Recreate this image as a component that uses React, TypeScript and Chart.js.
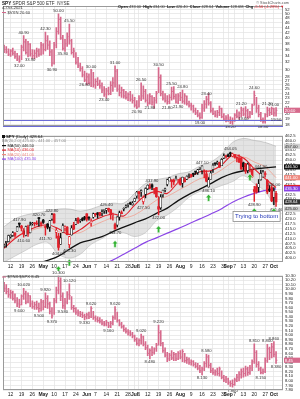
import React, { useEffect, useRef } from "react";
import { Chart, registerables } from "chart.js";

Chart.register(...registerables);

const FONT = "'Liberation Sans', Arial, Helvetica, sans-serif";
const GRID = "#e3e3e3";
const OHLC_COLOR = "#d66a8c";
const RED = "#e0202a";
const PURPLE = "#8a45e6";
const X_MIN = -0.5;
const X_MAX = 128.2;

// ---------- header text ----------
const symbol = "SPY";
const symbolName = "SPDR S&P 500 ETF";
const exchange = "NYSE";
const lastDate = "4-Oct-2021";
const lastVolume = "128.6M";
const topName = "$VXN";
const botName = "$TNX:$SPX";
const annText = "Trying to bottom";
const annIdx = 105;
const annVal = 424;

// ---------- x axis (trading-day index) ----------
const tickIdx = [3, 8, 13, 18, 23, 28, 33, 38, 42, 47, 52, 57, 60, 62, 66, 71, 76, 81, 86, 91, 96, 101, 103, 106, 110, 115, 120, 124];
const tickLabels = ["12", "19", "26", "May", "10", "17", "24", "Jun", "7", "14", "21", "28", "Jul", "6", "12", "19", "26", "Aug", "9", "16", "23", "30", "Sep", "7", "13", "20", "27", "Oct"];
const monthNames = ["May", "Jun", "Jul", "Aug", "Sep", "Oct"];

// ---------- y ticks ----------
const topTicks = [18, 19, 20, 21, 22, 23, 24, 25, 26, 27, 28, 30, 32, 34, 36, 38, 40, 42, 44, 46, 48, 50, 52];
const midTicks = [400, 402.5, 405, 407.5, 410, 412.5, 415, 417.5, 420, 422.5, 425, 427.5, 430, 432.5, 435, 437.5, 440, 442.5, 445, 447.5, 450, 452.5, 455, 457.5, 460, 462.5];
const botTicks = [7.8, 7.9, 8.0, 8.1, 8.2, 8.3, 8.4, 8.5, 8.6, 8.7, 8.8, 8.9, 9.0, 9.1, 9.2, 9.3, 9.4, 9.5, 9.6, 9.7, 9.8, 9.9, 10.0, 10.1, 10.2, 10.3];

// ---------- SPY daily OHLC ----------
const spyOpen = [
  405.9, 407.9, 408.4, 410.9, 411.5, 412.8, 413.7, 417.3, 416.3, 413.9,
  411.5, 415.9, 412.9, 417.4, 417.9, 417.8, 420.3, 417.6, 419.4, 416.1,
  417.4, 415.8, 419.9, 422.5, 413.1, 411.2, 407.1, 413.2, 415.4, 415.8,
  406.9, 411.8, 416.9, 417.3, 420.3, 418.9, 420.2, 420.9, 422.6, 420.4,
  417.9, 420.8, 422.6, 423.1, 423.2, 423.0, 424.2, 424.4, 425.4, 424.6,
  421.7, 417.1, 416.8, 420.9, 423.2, 424.9, 425.9, 427.2, 427.9, 427.2,
  428.9, 431.7, 433.8, 433.7, 428.8, 432.5, 435.4, 436.2, 437.4, 435.5,
  436.0, 426.2, 425.7, 432.3, 434.7, 437.5, 439.3, 439.9, 439.7, 439.8,
  437.9, 440.3, 438.2, 439.8, 440.2, 442.1, 442.5, 443.0, 443.8, 443.6,
  445.6, 444.5, 444.2, 443.0, 436.3, 440.2, 445.2, 448.0, 448.2, 448.6,
  447.1, 451.0, 452.1, 452.6, 453.3, 452.0, 452.7, 450.9, 450.7, 451.0,
  448.6, 448.1, 444.6, 447.3, 444.9, 434.9, 436.5, 436.1, 439.9, 441.4,
  442.8, 439.7, 435.2, 436.0, 431.0, 433.0,
];
const spyHigh = [
  407.2, 408.6, 411.7, 411.9, 413.5, 413.0, 416.2, 417.9, 416.7, 415.1,
  416.3, 416.8, 418.3, 418.2, 418.1, 419.0, 420.7, 418.5, 419.8, 416.6,
  417.6, 419.2, 422.8, 422.7, 415.3, 412.6, 412.6, 417.5, 416.4, 416.1,
  411.1, 416.6, 418.2, 420.3, 420.7, 419.6, 420.7, 421.3, 422.7, 421.2,
  420.0, 423.0, 422.8, 423.2, 423.3, 424.6, 424.4, 425.4, 425.5, 424.9,
  423.0, 417.8, 421.1, 424.0, 424.1, 425.6, 427.1, 427.7, 428.6, 428.8,
  430.6, 434.1, 434.0, 434.8, 431.7, 435.8, 437.4, 437.8, 437.9, 435.5,
  436.1, 431.4, 432.4, 434.7, 435.7, 440.3, 441.0, 439.9, 440.3, 441.8,
  440.1, 440.9, 441.3, 441.1, 441.9, 442.9, 442.8, 443.4, 443.9, 445.3,
  445.9, 447.1, 445.0, 444.6, 441.1, 444.4, 448.2, 448.5, 449.5, 448.9,
  450.7, 453.1, 452.5, 453.1, 454.05, 453.6, 452.8, 451.7, 452.6, 451.4,
  448.9, 448.3, 448.4, 447.8, 445.4, 436.6, 437.9, 440.0, 444.9, 444.7,
  444.1, 440.0, 437.0, 436.8, 436.0, 434.0,
];
const spyLow = [
  405.4, 405.6, 408.3, 410.2, 411.1, 410.6, 413.7, 415.7, 413.8, 410.6,
  411.3, 411.1, 412.8, 416.8, 416.3, 416.9, 416.3, 416.3, 417.7, 411.7,
  414.9, 413.6, 419.2, 417.8, 410.1, 404.0, 407.0, 413.2, 413.7, 411.8,
  405.3, 411.7, 414.5, 417.1, 417.6, 418.2, 419.0, 419.3, 418.8, 419.3,
  416.3, 420.3, 421.2, 420.3, 421.4, 421.6, 422.8, 422.8, 423.5, 419.9,
  419.3, 414.7, 415.9, 419.3, 422.5, 424.0, 425.6, 425.9, 427.2, 427.0,
  428.8, 430.5, 430.0, 431.5, 427.5, 430.7, 434.9, 435.3, 434.9, 432.7,
  430.9, 422.0, 424.8, 431.0, 433.7, 436.8, 439.3, 436.0, 437.3, 439.8,
  437.8, 437.2, 436.1, 438.7, 440.0, 441.1, 441.3, 441.5, 442.6, 442.7,
  445.1, 442.9, 440.9, 438.9, 436.1, 440.2, 443.7, 447.2, 447.8, 446.2,
  447.1, 450.7, 450.9, 451.7, 451.9, 451.6, 451.0, 449.1, 448.7, 445.3,
  444.9, 443.2, 443.4, 443.9, 441.0, 428.9, 433.1, 433.8, 439.7, 441.2,
  441.2, 432.9, 433.9, 428.8, 427.2, 426.4,
];
const spyClose = [
  406.6, 408.5, 411.5, 411.6, 412.9, 411.5, 415.9, 417.3, 415.2, 412.2,
  416.1, 412.3, 416.7, 417.6, 417.5, 417.4, 420.1, 417.3, 418.2, 415.6,
  415.8, 419.1, 422.1, 417.9, 414.2, 405.4, 410.3, 416.6, 415.5, 411.9,
  410.9, 415.3, 414.9, 419.2, 418.2, 419.1, 419.3, 420.0, 419.7, 420.3,
  418.8, 422.6, 422.2, 422.3, 421.7, 423.6, 424.3, 425.3, 424.5, 422.1,
  422.0, 414.9, 420.9, 423.1, 422.6, 425.1, 426.6, 427.5, 427.7, 428.1,
  430.4, 433.7, 432.9, 434.5, 430.9, 435.5, 437.1, 435.6, 436.2, 434.8,
  431.3, 425.0, 431.1, 434.6, 435.5, 439.9, 441.0, 439.0, 438.8, 440.7,
  438.5, 437.6, 441.2, 439.0, 441.8, 442.5, 442.1, 442.7, 443.8, 445.1,
  445.9, 447.0, 444.0, 439.2, 439.9, 443.4, 447.3, 448.0, 448.9, 446.3,
  450.3, 452.2, 451.6, 451.8, 453.2, 453.1, 451.5, 450.9, 449.0, 445.4,
  446.6, 444.2, 447.9, 447.2, 441.4, 434.0, 433.6, 437.9, 443.2, 443.9,
  442.6, 433.7, 434.5, 429.1, 434.2, 428.64,
];

// ---------- indicators (read weekly) ----------
const maIdx = [0, 5, 10, 15, 20, 25, 30, 35, 40, 45, 50, 55, 60, 65, 70, 75, 80, 85, 90, 95, 100, 105, 110, 115, 120, 125];
const ma10 = [405, 410, 413.5, 416, 417, 415, 412, 414.5, 418.5, 421, 422.5, 421.5, 427, 432, 434, 433, 438.5, 441, 444, 444.5, 447.5, 452.5, 451, 445.5, 440.5, 436];
const ma20 = [407, 410.5, 413, 415, 416, 413.5, 412.5, 413, 416, 418.5, 420.5, 420.5, 422, 425.5, 429.5, 431.5, 434.5, 437.5, 440.5, 442, 445, 449, 451.5, 449, 446.5, 441];
const ma50 = [392, 394, 395.5, 397, 398.8, 401, 404.5, 407.8, 409.3, 410.9, 413.5, 415.8, 418, 420, 422.8, 425.5, 429.3, 432.5, 435.2, 438, 441, 443.2, 444.5, 445.4, 446, 446.5];
const ma100 = [374, 376.5, 379, 381.5, 384, 386.5, 389, 391.5, 394, 396.5, 399, 402, 405, 408, 410.3, 412.7, 415, 417.5, 420, 422.5, 425.2, 428.5, 431, 433, 434.5, 435.3];
const bbUpper = [416, 420, 422, 423, 424, 425, 425, 424, 425, 427, 428, 428, 433, 438, 440, 441, 443, 444, 447, 449, 453, 459, 461, 460, 459, 457];
const bbLower = [398, 401, 404, 407, 408, 402, 400, 402, 407, 410, 413, 413, 411, 413, 419, 422, 426, 431, 434, 435, 437, 439, 442, 438, 434, 425];

const arrowIdx = [25, 30, 51, 71, 94, 113, 115, 124];
const arrowVal = [396, 399.5, 409, 416.5, 432.5, 443, 425.5, 425.5];

const spyHiLabels = [7, 16, 22, 47, 68, 91, 104, 118, 124];
const spyLoLabels = [9, 19, 25, 30, 51, 64, 71, 94, 115, 125];

// ---------- top panel (H/L/C) ----------
const topHigh = [
  37.5, 37.0, 36.2, 36.0, 36.5, 35.5, 34.8, 34.0, 37.5, 40.9,
  39.5, 38.8, 38.0, 36.0, 35.8, 36.5, 36.2, 38.5, 38.0, 42.3,
  40.9, 39.0, 36.0, 38.5, 44.0, 50.0, 48.5, 41.0, 39.5, 42.0,
  45.5, 39.5, 36.5, 35.0, 33.5, 31.8, 30.8, 29.5, 29.0, 28.8,
  30.0, 29.2, 27.5, 27.8, 27.2, 26.5, 25.6, 25.2, 25.5, 26.8,
  27.8, 31.0, 30.0, 26.0, 25.5, 25.0, 24.5, 24.2, 24.5, 23.8,
  23.2, 22.5, 23.6, 26.5, 25.8, 25.0, 23.8, 24.0, 23.6, 23.2,
  24.5, 30.5, 28.5, 24.6, 24.0, 23.6, 23.8, 25.5, 25.6, 23.9,
  24.0, 24.3, 24.8, 24.0, 23.5, 22.4, 22.0, 21.6, 21.0, 20.6,
  20.1, 21.8, 22.5, 23.4, 24.0, 22.3, 21.0, 20.5, 20.6, 21.4,
  21.0, 20.0, 19.6, 19.8, 19.4, 19.2, 20.0, 20.7, 20.3, 21.2,
  21.0, 21.3, 20.8, 20.4, 21.8, 24.6, 23.2, 21.6, 20.2, 19.2,
  20.0, 21.2, 21.0, 21.2, 21.0, 21.1,
];
const topLow = [
  35.0, 34.8, 34.0, 33.8, 34.2, 33.2, 32.5, 32.0, 32.8, 35.5,
  34.5, 33.6, 33.9, 33.2, 33.0, 33.5, 33.8, 34.2, 34.5, 35.5,
  36.0, 34.0, 30.9, 31.5, 36.5, 41.5, 39.5, 35.8, 35.4, 37.0,
  37.8, 34.5, 33.5, 31.5, 30.5, 29.5, 28.0, 26.8, 26.0, 26.2,
  25.6, 25.5, 25.2, 25.8, 25.2, 24.2, 23.4, 23.0, 23.7, 23.8,
  24.5, 25.5, 24.5, 23.5, 23.2, 23.0, 22.8, 22.5, 22.4, 22.0,
  21.2, 20.9, 21.2, 22.5, 22.8, 22.2, 21.5, 21.8, 21.6, 21.0,
  22.0, 24.2, 23.5, 22.6, 22.2, 21.8, 21.9, 22.6, 22.8, 22.0,
  21.9, 22.5, 22.0, 21.8, 21.6, 21.2, 20.6, 20.2, 19.8, 19.4,
  19.0, 19.1, 20.4, 21.0, 21.6, 20.2, 19.8, 19.4, 19.3, 19.6,
  19.2, 18.8, 18.5, 18.6, 18.2, 18.1, 18.6, 19.2, 19.0, 19.4,
  19.6, 19.3, 19.1, 19.2, 19.8, 21.6, 20.2, 19.4, 18.6, 18.3,
  18.3, 19.4, 19.6, 19.8, 19.5, 19.5,
];
const topClose = [
  36.0, 35.2, 34.5, 35.5, 34.8, 33.8, 33.0, 32.4, 36.8, 38.6,
  35.0, 37.8, 34.6, 34.0, 34.8, 35.5, 34.5, 37.5, 36.0, 39.0,
  37.5, 35.2, 31.8, 37.5, 42.5, 47.5, 40.0, 36.4, 38.0, 40.5,
  39.0, 35.0, 35.5, 32.0, 31.0, 30.2, 28.5, 27.2, 28.0, 26.5,
  29.6, 26.0, 26.8, 26.2, 25.8, 24.8, 23.9, 24.6, 24.0, 25.9,
  26.5, 29.5, 25.0, 24.2, 24.8, 23.5, 23.2, 23.8, 22.8, 22.5,
  21.6, 21.2, 23.0, 23.5, 24.5, 22.6, 22.0, 23.4, 22.2, 22.6,
  24.0, 27.8, 24.0, 23.0, 22.5, 22.3, 23.2, 24.5, 23.4, 22.2,
  23.5, 23.2, 22.4, 23.5, 21.9, 21.5, 21.4, 20.5, 20.1, 19.7,
  19.3, 21.0, 21.8, 22.8, 22.0, 20.5, 20.0, 19.7, 20.2, 20.9,
  19.4, 19.0, 19.2, 18.9, 18.5, 18.7, 19.7, 19.5, 20.0, 20.6,
  19.9, 20.5, 19.4, 20.1, 21.5, 23.6, 21.0, 19.8, 18.9, 18.6,
  19.8, 20.6, 20.2, 20.9, 20.1, 20.6,
];
const hLineVals = [18.8, 17.85];
const topHiLabels = [9, 19, 25, 30, 40, 51, 63, 71, 77, 82, 93, 109, 115, 121, 124];
const topLoLabels = [7, 12, 22, 27, 37, 46, 61, 67, 75, 80, 90, 104, 110, 119, 125];

// ---------- bottom panel (H/L/C) ----------
const botHigh = [
  10.15, 10.10, 10.02, 9.98, 9.96, 9.90, 9.82, 9.78, 9.88, 10.02,
  9.96, 9.92, 9.86, 9.75, 9.72, 9.74, 9.70, 9.78, 9.76, 9.92,
  9.86, 9.72, 9.60, 9.80, 10.05, 10.30, 10.25, 9.92, 9.80, 9.95,
  10.12, 9.84, 9.65, 9.60, 9.55, 9.52, 9.50, 9.46, 9.48, 9.50,
  9.62, 9.52, 9.42, 9.40, 9.38, 9.34, 9.30, 9.32, 9.28, 9.30,
  9.42, 9.62, 9.50, 9.34, 9.28, 9.22, 9.16, 9.12, 9.10, 9.06,
  9.00, 8.94, 8.92, 9.02, 8.98, 8.86, 8.78, 8.70, 8.75, 8.72,
  8.82, 9.22, 9.10, 8.84, 8.72, 8.62, 8.60, 8.66, 8.62, 8.60,
  8.64, 8.66, 8.68, 8.60, 8.52, 8.50, 8.46, 8.44, 8.40, 8.38,
  8.34, 8.30, 8.42, 8.58, 8.56, 8.38, 8.28, 8.24, 8.28, 8.30,
  8.22, 8.12, 8.10, 8.06, 8.00, 8.02, 8.06, 8.14, 8.20, 8.26,
  8.28, 8.32, 8.30, 8.34, 8.46, 8.81, 8.66, 8.42, 8.30, 8.26,
  8.50, 8.80, 8.74, 8.82, 8.86, 8.64,
];
const botLow = [
  9.95, 9.90, 9.82, 9.80, 9.76, 9.70, 9.62, 9.60, 9.66, 9.78,
  9.68, 9.70, 9.62, 9.58, 9.56, 9.56, 9.50, 9.52, 9.55, 9.60,
  9.58, 9.46, 9.37, 9.45, 9.70, 9.90, 9.75, 9.58, 9.56, 9.68,
  9.78, 9.56, 9.50, 9.45, 9.42, 9.40, 9.38, 9.33, 9.35, 9.36,
  9.38, 9.34, 9.30, 9.28, 9.26, 9.22, 9.20, 9.20, 9.16, 9.16,
  9.22, 9.34, 9.28, 9.20, 9.15, 9.08, 9.04, 9.00, 8.98, 8.94,
  8.86, 8.78, 8.76, 8.80, 8.76, 8.68, 8.55, 8.48, 8.55, 8.58,
  8.64, 8.78, 8.76, 8.62, 8.52, 8.42, 8.44, 8.46, 8.44, 8.44,
  8.46, 8.48, 8.42, 8.40, 8.38, 8.36, 8.34, 8.32, 8.28, 8.24,
  8.18, 8.13, 8.22, 8.30, 8.28, 8.18, 8.14, 8.12, 8.12, 8.10,
  8.04, 7.98, 7.96, 7.92, 7.88, 7.86, 7.90, 7.98, 8.00, 8.06,
  8.08, 8.10, 8.12, 8.14, 8.22, 8.38, 8.30, 8.22, 8.15, 8.15,
  8.18, 8.40, 8.46, 8.50, 8.52, 8.38,
];
const botClose = [
  10.02, 9.95, 9.88, 9.92, 9.80, 9.75, 9.68, 9.66, 9.85, 9.90,
  9.72, 9.86, 9.68, 9.62, 9.66, 9.60, 9.58, 9.72, 9.62, 9.80,
  9.68, 9.52, 9.42, 9.75, 9.98, 10.18, 9.85, 9.64, 9.72, 9.88,
  9.86, 9.60, 9.58, 9.50, 9.48, 9.45, 9.42, 9.40, 9.44, 9.40,
  9.58, 9.38, 9.35, 9.32, 9.30, 9.26, 9.24, 9.28, 9.20, 9.26,
  9.38, 9.55, 9.32, 9.24, 9.18, 9.12, 9.08, 9.05, 9.02, 8.98,
  8.90, 8.82, 8.88, 8.96, 8.80, 8.72, 8.60, 8.66, 8.62, 8.70,
  8.78, 9.05, 8.82, 8.66, 8.56, 8.48, 8.56, 8.50, 8.58, 8.48,
  8.60, 8.52, 8.64, 8.44, 8.46, 8.40, 8.42, 8.36, 8.32, 8.28,
  8.22, 8.26, 8.38, 8.52, 8.34, 8.22, 8.18, 8.20, 8.16, 8.26,
  8.08, 8.02, 8.04, 7.96, 7.94, 7.92, 8.02, 8.08, 8.14, 8.20,
  8.16, 8.26, 8.18, 8.28, 8.42, 8.62, 8.36, 8.26, 8.18, 8.20,
  8.44, 8.70, 8.62, 8.74, 8.58, 8.45,
];
const botHiLabels = [9, 19, 25, 30, 40, 51, 63, 71, 93, 115, 121, 124];
const botLoLabels = [7, 16, 22, 27, 37, 48, 67, 91, 105, 118, 125];

// ---------- helpers ----------
const last = (a: number[]) => a[a.length - 1];

function setFont(ctx: any, size: number, weight = "normal") {
  ctx.font = `${weight} ${size}px ${FONT}`;
}
function text(ctx: any, s: string, x: number, y: number, size: number, color: string, align = "left", weight = "normal") {
  setFont(ctx, size, weight);
  ctx.fillStyle = color;
  ctx.textAlign = align;
  ctx.textBaseline = "middle";
  ctx.fillText(s, x, y);
}
function rich(ctx: any, parts: any[], x: number, y: number, size: number, align = "left") {
  let total = 0;
  parts.forEach((p) => {
    setFont(ctx, size, p[1]);
    total += ctx.measureText(p[0]).width;
  });
  let cx = align === "right" ? x - total : x;
  parts.forEach((p) => {
    setFont(ctx, size, p[1]);
    ctx.fillStyle = p[2];
    ctx.textAlign = "left";
    ctx.textBaseline = "middle";
    ctx.fillText(p[0], cx, y);
    cx += ctx.measureText(p[0]).width;
  });
}
function frame(chart: any) {
  const a = chart.chartArea;
  const ctx = chart.ctx;
  ctx.save();
  ctx.strokeStyle = "#9a9a9a";
  ctx.lineWidth = 1;
  ctx.strokeRect(Math.round(a.left) + 0.5, Math.round(a.top) + 0.5, Math.round(a.right - a.left) - 1, Math.round(a.bottom - a.top) - 1);
  ctx.restore();
}
function valueBox(chart: any, value: number, label: string, bg: string, fg: string) {
  const ctx = chart.ctx;
  const y = chart.scales.y.getPixelForValue(value);
  const x = chart.chartArea.right + 1;
  ctx.fillStyle = bg;
  ctx.fillRect(x, y - 2.6, 16, 5.2);
  text(ctx, label, x + 0.8, y + 0.2, 4.2, fg);
}
function hiLoLabels(chart: any, hiIdx: number[], loIdx: number[], hi: number[], lo: number[], digits: number) {
  const ctx = chart.ctx;
  const xs = chart.scales.x;
  const ys = chart.scales.y;
  hiIdx.forEach((i) => text(ctx, hi[i].toFixed(digits), xs.getPixelForValue(i), ys.getPixelForValue(hi[i]) - 3, 4.2, "#333", "center"));
  loIdx.forEach((i) => text(ctx, lo[i].toFixed(digits), xs.getPixelForValue(i), ys.getPixelForValue(lo[i]) + 3.4, 4.2, "#333", "center"));
}
function greenArrow(ctx: any, x: number, y: number) {
  ctx.save();
  ctx.fillStyle = "#35b335";
  ctx.strokeStyle = "#ffffff";
  ctx.lineWidth = 0.5;
  ctx.beginPath();
  ctx.moveTo(x, y);
  ctx.lineTo(x + 3, y + 3.4);
  ctx.lineTo(x + 1.2, y + 3.4);
  ctx.lineTo(x + 1.2, y + 7);
  ctx.lineTo(x - 1.2, y + 7);
  ctx.lineTo(x - 1.2, y + 3.4);
  ctx.lineTo(x - 3, y + 3.4);
  ctx.closePath();
  ctx.fill();
  ctx.stroke();
  ctx.restore();
}

function xScale(showLabels: boolean) {
  return {
    type: "linear",
    min: X_MIN,
    max: X_MAX,
    offset: false,
    afterBuildTicks: (a: any) => {
      a.ticks = tickIdx.map((v) => ({ value: v }));
    },
    afterFit: (a: any) => {
      a.height = showLabels ? 9 : 0;
    },
    grid: { color: GRID, lineWidth: 0.7, drawTicks: false, offset: false },
    border: { display: false },
    ticks: {
      display: showLabels,
      autoSkip: false,
      maxRotation: 0,
      minRotation: 0,
      padding: 2,
      color: "#222",
      font: (c: any) => ({ family: FONT, size: 5, weight: monthNames.includes(tickLabels[c.index]) ? "bold" : "normal" }),
      callback: (_v: any, i: number) => tickLabels[i],
    },
  };
}
function yScale(type: string, min: number, max: number, ticksArr: number[], fmt: (v: number) => string) {
  return {
    type,
    position: "right",
    min,
    max,
    afterBuildTicks: (a: any) => {
      a.ticks = ticksArr.map((v) => ({ value: v }));
    },
    afterFit: (a: any) => {
      a.width = 17;
    },
    grid: { color: GRID, lineWidth: 0.7, drawTicks: false },
    border: { display: false },
    ticks: { autoSkip: false, padding: 2, color: "#222", font: { family: FONT, size: 4.2 }, callback: (v: any) => fmt(Number(v)) },
  };
}
function baseOptions(padTop: number, x: any, y: any) {
  return {
    responsive: false,
    animation: false,
    events: [],
    layout: { padding: { left: 3, right: 0, top: padTop, bottom: 0 } },
    plugins: { legend: { display: false }, tooltip: { enabled: false } },
    scales: { x, y },
  };
}
function hlcDatasets(high: number[], low: number[], close: number[]) {
  return [
    {
      type: "bar",
      data: low.map((l, i) => ({ x: i, y: [l, high[i]] })),
      barThickness: 1,
      grouped: false,
      minBarLength: 1,
      backgroundColor: OHLC_COLOR,
      borderWidth: 0,
      order: 2,
    },
    {
      type: "line",
      data: close.map((c, i) => ({ x: i, y: c })),
      showLine: false,
      pointStyle: "dash",
      pointRadius: 1.4,
      pointHoverRadius: 0,
      pointBorderWidth: 0.9,
      pointBorderColor: OHLC_COLOR,
      pointBackgroundColor: OHLC_COLOR,
      order: 1,
    },
  ];
}
const pts = (arr: number[]) => maIdx.map((x, i) => ({ x, y: arr[i] }));
function maLine(arr: number[], color: string, width: number, order: number) {
  return { type: "line", data: pts(arr), borderColor: color, borderWidth: width, pointRadius: 0, tension: 0.35, fill: false, order };
}

// ---------- charts ----------
function makeTop(canvas: HTMLCanvasElement) {
  const plugin = {
    id: "topOverlay",
    afterDatasetsDraw(chart: any) {
      const ctx = chart.ctx;
      const a = chart.chartArea;
      const ys = chart.scales.y;
      ctx.save();
      hLineVals.forEach((v) => {
        const y = Math.round(ys.getPixelForValue(v)) + 0.5;
        ctx.strokeStyle = "#6b6bd6";
        ctx.lineWidth = 1;
        ctx.beginPath();
        ctx.moveTo(a.left, y);
        ctx.lineTo(a.right, y);
        ctx.stroke();
      });
      hiLoLabels(chart, topHiLabels, topLoLabels, topHigh, topLow, 2);
      frame(chart);
      valueBox(chart, last(topClose), last(topClose).toFixed(2), OHLC_COLOR, "#fff");
      // header
      rich(ctx, [[symbol, "bold", "#111"], [" " + symbolName + "  " + exchange, "normal", "#333"]], 2, 3.5, 4.6);
      text(ctx, lastDate, 2, 8, 4.2, "#333");
      ctx.fillStyle = OHLC_COLOR;
      ctx.fillRect(2, 12, 4, 1);
      text(ctx, topName + " " + last(topClose).toFixed(2), 7.5, 12.5, 4.2, "#333");
      const c = last(spyClose);
      const pc = spyClose[spyClose.length - 2];
      const chg = c - pc;
      rich(
        ctx,
        [
          ["Open ", "bold", "#111"], [last(spyOpen).toFixed(2) + "  ", "normal", "#333"],
          ["High ", "bold", "#111"], [last(spyHigh).toFixed(2) + "  ", "normal", "#333"],
          ["Low ", "bold", "#111"], [last(spyLow).toFixed(2) + "  ", "normal", "#333"],
          ["Close ", "bold", "#111"], [c.toFixed(2) + "  ", "normal", "#333"],
          ["Volume ", "bold", "#111"], [lastVolume + "  ", "normal", "#333"],
          ["Chg ", "bold", "#111"], [chg.toFixed(2) + " (" + ((chg / pc) * 100).toFixed(2) + "%) \u25BC", "normal", RED],
        ],
        284,
        7,
        3.9,
        "right"
      );
      text(ctx, "\u00A9 StockCharts.com", 289, 2.8, 3.8, "#555", "right");
      ctx.restore();
    },
  };
  return new Chart(canvas, {
    type: "bar",
    data: { datasets: hlcDatasets(topHigh, topLow, topClose) as any },
    options: baseOptions(6, xScale(false), yScale("logarithmic", 17.75, 53.7, topTicks, (v) => String(v))) as any,
    plugins: [plugin],
  });
}

function makeMid(canvas: HTMLCanvasElement) {
  const candleColor = spyClose.map((c, i) => (i > 0 && c < spyClose[i - 1] ? RED : "#111"));
  const bodyFill = spyClose.map((c, i) => (c > spyOpen[i] ? "#ffffff" : candleColor[i]));
  const bodyBorder = spyClose.map((c, i) => (c > spyOpen[i] ? 0.6 : 0));
  const plugin = {
    id: "midOverlay",
    afterDatasetsDraw(chart: any) {
      const ctx = chart.ctx;
      const xs = chart.scales.x;
      const ys = chart.scales.y;
      ctx.save();
      hiLoLabels(chart, spyHiLabels, spyLoLabels, spyHigh, spyLow, 2);
      arrowIdx.forEach((i, k) => greenArrow(ctx, xs.getPixelForValue(i), ys.getPixelForValue(arrowVal[k])));
      // annotation box
      setFont(ctx, 6, "normal");
      const tw = ctx.measureText(annText).width;
      const bx = xs.getPixelForValue(annIdx);
      const by = ys.getPixelForValue(annVal);
      ctx.fillStyle = "#ffffff";
      ctx.fillRect(bx, by, tw + 5, 11);
      ctx.strokeStyle = "#8a8a8a";
      ctx.lineWidth = 0.8;
      ctx.strokeRect(bx + 0.5, by + 0.5, tw + 4, 10);
      text(ctx, annText, bx + 2.5, by + 5.8, 6, "#2336b8");
      frame(chart);
      // legend
      ctx.fillStyle = "#111";
      ctx.fillRect(2, 4, 3, 3);
      rich(ctx, [["SPY", "bold", "#111"], [" (Daily) " + last(spyClose).toFixed(2), "normal", "#111"]], 6, 5.5, 4.3);
      text(ctx, "BB(20,2.0) " + last(bbLower).toFixed(2) + " - " + last(ma20).toFixed(2) + " - " + last(bbUpper).toFixed(2), 2, 10, 4, "#888");
      const leg = [
        ["MA(50) " + last(ma50).toFixed(2), "#111"],
        ["MA(10) " + last(ma10).toFixed(2), RED],
        ["MA(20) " + last(ma20).toFixed(2), "#ee8a80"],
        ["MA(100) " + last(ma100).toFixed(2), PURPLE],
      ];
      leg.forEach((l, k) => {
        const y = 14.5 + k * 4.5;
        ctx.fillStyle = l[1];
        ctx.fillRect(2, y - 0.5, 4, 1.2);
        text(ctx, l[0], 7.5, y, 4, l[1]);
      });
      // right value boxes
      valueBox(chart, last(bbUpper), last(bbUpper).toFixed(2), "#cfcfcf", "#222");
      valueBox(chart, last(ma50), last(ma50).toFixed(2), "#111", "#fff");
      valueBox(chart, last(ma20), last(ma20).toFixed(2), "#ee8a80", "#fff");
      valueBox(chart, last(ma10), last(ma10).toFixed(2), RED, "#fff");
      valueBox(chart, last(ma100), last(ma100).toFixed(2), PURPLE, "#fff");
      valueBox(chart, last(bbLower), last(bbLower).toFixed(2), "#cfcfcf", "#222");
      valueBox(chart, last(spyClose), last(spyClose).toFixed(2), "#333", "#fff");
      ctx.restore();
    },
  };
  const datasets = [
    { type: "line", data: pts(bbLower), borderColor: "rgba(150,150,150,0.7)", borderWidth: 0.6, pointRadius: 0, tension: 0.35, fill: false, order: 20 },
    { type: "line", data: pts(bbUpper), borderColor: "rgba(150,150,150,0.7)", borderWidth: 0.6, pointRadius: 0, tension: 0.35, fill: "-1", backgroundColor: "rgba(200,200,200,0.5)", order: 19 },
    maLine(ma100, PURPLE, 1.2, 8),
    maLine(ma20, "#f0a090", 0.8, 7),
    maLine(ma50, "#111111", 1.3, 6),
    maLine(ma10, RED, 1.1, 5),
    {
      type: "bar",
      data: spyLow.map((l, i) => ({ x: i, y: [l, spyHigh[i]] })),
      barThickness: 0.8,
      grouped: false,
      minBarLength: 1,
      backgroundColor: candleColor,
      borderWidth: 0,
      order: 2,
    },
    {
      type: "bar",
      data: spyOpen.map((o, i) => ({ x: i, y: [o, spyClose[i]] })),
      barThickness: 2,
      grouped: false,
      minBarLength: 1,
      borderSkipped: false,
      backgroundColor: bodyFill,
      borderColor: candleColor,
      borderWidth: bodyBorder,
      order: 1,
    },
  ];
  return new Chart(canvas, {
    type: "bar",
    data: { datasets: datasets as any },
    options: baseOptions(1, xScale(true), yScale("linear", 398, 462.5, midTicks, (v) => v.toFixed(1))) as any,
    plugins: [plugin],
  });
}

function makeBot(canvas: HTMLCanvasElement) {
  const plugin = {
    id: "botOverlay",
    afterDatasetsDraw(chart: any) {
      const ctx = chart.ctx;
      ctx.save();
      hiLoLabels(chart, botHiLabels, botLoLabels, botHigh, botLow, 3);
      frame(chart);
      ctx.fillStyle = OHLC_COLOR;
      ctx.fillRect(2, 5.5, 4, 1);
      text(ctx, botName + " " + last(botClose).toFixed(2), 7.5, 6, 4.2, "#333");
      valueBox(chart, last(botClose), last(botClose).toFixed(2), OHLC_COLOR, "#fff");
      ctx.restore();
    },
  };
  return new Chart(canvas, {
    type: "bar",
    data: { datasets: hlcDatasets(botHigh, botLow, botClose) as any },
    options: baseOptions(0, xScale(true), yScale("linear", 7.8, 10.3, botTicks, (v) => v.toFixed(2))) as any,
    plugins: [plugin],
  });
}

export default function App() {
  const r1 = useRef<HTMLCanvasElement>(null);
  const r2 = useRef<HTMLCanvasElement>(null);
  const r3 = useRef<HTMLCanvasElement>(null);
  useEffect(() => {
    const charts = [makeTop(r1.current!), makeMid(r2.current!), makeBot(r3.current!)];
    return () => charts.forEach((c) => c.destroy());
  }, []);
  const cs = (top: number, h: number) => ({ position: "absolute" as const, left: 0, top, width: 300, height: h, display: "block" });
  return (
    <div style={{ position: "fixed", left: 0, top: 0, width: 300, height: 399, background: "#fff", overflow: "hidden" }}>
      <canvas ref={r1} width={300} height={131} style={cs(0, 131)} />
      <canvas ref={r2} width={300} height={140} style={cs(131, 140)} />
      <canvas ref={r3} width={300} height={128} style={cs(271, 128)} />
    </div>
  );
}
